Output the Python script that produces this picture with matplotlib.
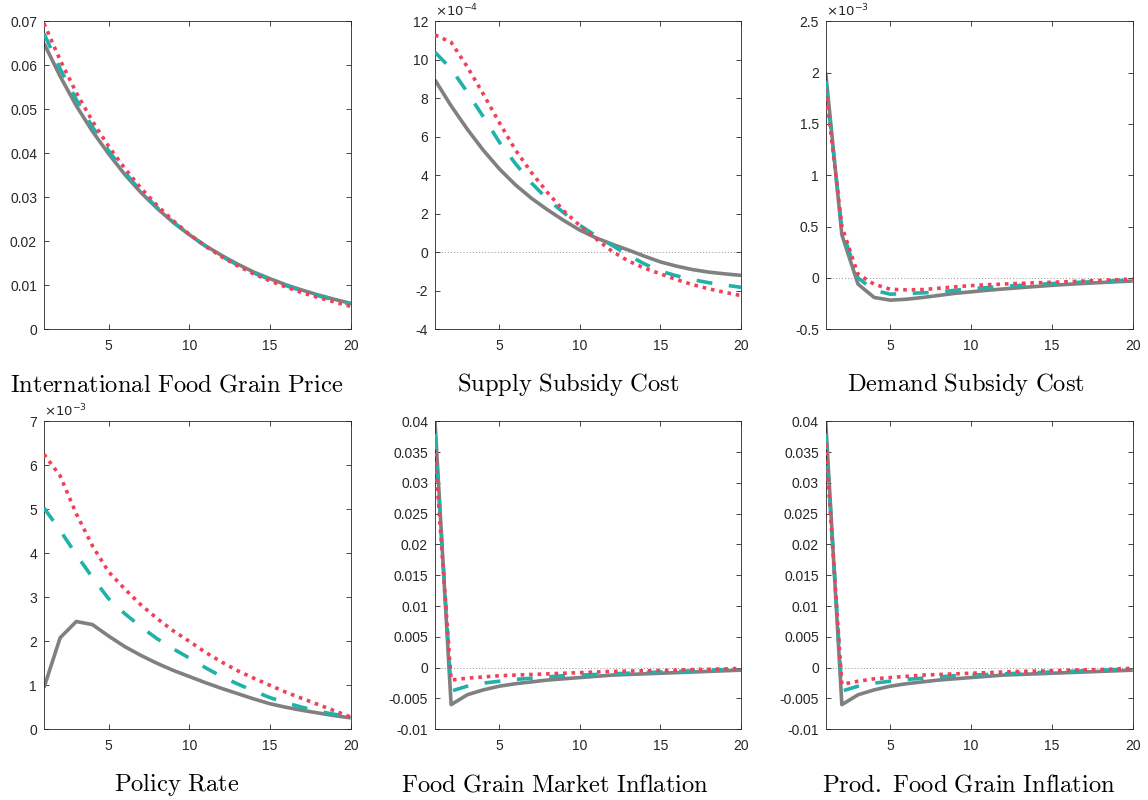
import numpy as np
import matplotlib
matplotlib.use("Agg")
import matplotlib.pyplot as plt
from matplotlib.ticker import MultipleLocator, FuncFormatter

# ---------------- data ----------------
periods = list(range(1, 21))

# International Food Grain Price
intl_gray = [0.0650, 0.0575, 0.0508, 0.0450, 0.0399, 0.0352, 0.0311, 0.0275, 0.0243, 0.0215,
             0.0190, 0.0168, 0.0148, 0.0130, 0.0115, 0.0101, 0.0089, 0.0078, 0.0068, 0.0059]
intl_teal = [0.0672, 0.0592, 0.0522, 0.0460, 0.0406, 0.0357, 0.0314, 0.0277, 0.0244, 0.0215,
             0.0189, 0.0166, 0.0146, 0.0128, 0.0113, 0.0099, 0.0087, 0.0076, 0.0066, 0.0057]
intl_pink = [0.0695, 0.0612, 0.0538, 0.0473, 0.0416, 0.0366, 0.0321, 0.0282, 0.0247, 0.0216,
             0.0189, 0.0165, 0.0144, 0.0126, 0.0110, 0.0096, 0.0083, 0.0072, 0.0062, 0.0052]

# Supply Subsidy Cost (units of 1e-4)
supply_gray = [8.95, 7.61, 6.40, 5.30, 4.33, 3.50, 2.80, 2.20, 1.65, 1.15,
               0.75, 0.42, 0.12, -0.20, -0.50, -0.72, -0.90, -1.03, -1.12, -1.20]
supply_teal = [10.39, 9.54, 8.32, 7.04, 5.72, 4.60, 3.59, 2.75, 2.05, 1.40,
               0.85, 0.36, -0.15, -0.60, -0.98, -1.22, -1.42, -1.58, -1.70, -1.82]
supply_pink = [11.29, 10.91, 9.64, 8.22, 6.73, 5.31, 4.13, 3.09, 2.15, 1.38,
               0.70, 0.05, -0.45, -0.82, -1.12, -1.42, -1.68, -1.90, -2.08, -2.25]

# Demand Subsidy Cost (units of 1e-3)
demand_gray = [2.00, 0.42, -0.06, -0.19, -0.216, -0.207, -0.19, -0.17, -0.15, -0.135,
               -0.12, -0.107, -0.095, -0.083, -0.072, -0.062, -0.053, -0.045, -0.037, -0.030]
demand_teal = [1.92, 0.47, 0.00, -0.12, -0.158, -0.151, -0.145, -0.137, -0.120, -0.105,
               -0.094, -0.083, -0.073, -0.064, -0.055, -0.047, -0.040, -0.033, -0.026, -0.020]
demand_pink = [1.84, 0.50, 0.036, -0.061, -0.110, -0.116, -0.113, -0.100, -0.087, -0.074,
               -0.066, -0.059, -0.053, -0.047, -0.042, -0.036, -0.030, -0.024, -0.017, -0.010]

# Policy Rate (units of 1e-3)
policy_gray = [0.95, 2.08, 2.45, 2.38, 2.12, 1.88, 1.68, 1.50, 1.34, 1.20,
               1.06, 0.93, 0.81, 0.69, 0.58, 0.50, 0.43, 0.37, 0.31, 0.26]
policy_teal = [5.03, 4.52, 3.97, 3.45, 2.97, 2.63, 2.33, 2.06, 1.83, 1.62,
               1.40, 1.20, 1.03, 0.87, 0.72, 0.60, 0.50, 0.41, 0.34, 0.28]
policy_pink = [6.25, 5.76, 4.90, 4.17, 3.58, 3.19, 2.83, 2.52, 2.24, 2.00,
               1.75, 1.53, 1.33, 1.16, 1.00, 0.84, 0.70, 0.56, 0.42, 0.28]

# Food Grain Market Inflation
market_gray = [0.0400, -0.0060, -0.0044, -0.0036, -0.0030, -0.0026, -0.0023, -0.0020, -0.0018, -0.0016,
               -0.0014, -0.0012, -0.0011, -0.0010, -0.0009, -0.0008, -0.0007, -0.0006, -0.0005, -0.0004]
market_teal = [0.0380, -0.0038, -0.0030, -0.0025, -0.0022, -0.0019, -0.0017, -0.0015, -0.0013, -0.0012,
               -0.0011, -0.0010, -0.0009, -0.0008, -0.0007, -0.0006, -0.0005, -0.0004, -0.0003, -0.0002]
market_pink = [0.0348, -0.0020, -0.0017, -0.0015, -0.0013, -0.0012, -0.0011, -0.0010, -0.0009, -0.0008,
               -0.0007, -0.0006, -0.00055, -0.0005, -0.00045, -0.0004, -0.0003, -0.00025, -0.0002, -0.0001]

# Prod. Food Grain Inflation
prod_gray = [0.0400, -0.0060, -0.0044, -0.0036, -0.0030, -0.0026, -0.0023, -0.0020, -0.0018, -0.0016,
             -0.0014, -0.0012, -0.0011, -0.0010, -0.0009, -0.0008, -0.0007, -0.0006, -0.0005, -0.0004]
prod_teal = [0.0380, -0.0038, -0.0030, -0.0025, -0.0022, -0.0019, -0.0017, -0.0015, -0.0013, -0.0012,
             -0.0011, -0.0010, -0.0009, -0.0008, -0.0007, -0.0006, -0.0005, -0.0004, -0.0003, -0.0002]
prod_pink = [0.0364, -0.0027, -0.0022, -0.0018, -0.0016, -0.0014, -0.0012, -0.0011, -0.0010, -0.0009,
             -0.0008, -0.0007, -0.0006, -0.00055, -0.0005, -0.0004, -0.00035, -0.0003, -0.0002, -0.0001]

titles = ["International Food Grain Price", "Supply Subsidy Cost", "Demand Subsidy Cost",
          "Policy Rate", "Food Grain Market Inflation", "Prod. Food Grain Inflation"]
exponents = [None, "-4", "-3", "-3", None, None]
ylims = [(0, 0.07), (-4, 12), (-0.5, 2.5), (0, 7), (-0.01, 0.04), (-0.01, 0.04)]
ysteps = [0.01, 2, 0.5, 1, 0.005, 0.005]
series = [(intl_gray, intl_teal, intl_pink),
          (supply_gray, supply_teal, supply_pink),
          (demand_gray, demand_teal, demand_pink),
          (policy_gray, policy_teal, policy_pink),
          (market_gray, market_teal, market_pink),
          (prod_gray, prod_teal, prod_pink)]

# ---------------- layout ----------------
W, H = 1148, 800
plt.rcParams['font.family'] = ['Liberation Sans', 'DejaVu Sans']
fig = plt.figure(figsize=(W / 100, H / 100), dpi=100)

lefts = [44, 435, 825.7]
rights = [350.7, 741, 1132.7]
tops = [21.3, 421.3]
bottoms = [329.3, 729.3]
title_x = [177, 568, 966, 177, 555, 969]
title_base = [391, 791.5]

GRAY = '#808080'
TEAL = '#20B2AA'
PINK = '#F0405A'
AXC = '#262626'

def fmt(v, pos):
    return '%g' % round(v, 6)

for i in range(6):
    r, c = divmod(i, 3)
    l, rt = lefts[c], rights[c]
    t, b = tops[r], bottoms[r]
    ax = fig.add_axes([l / W, 1 - b / H, (rt - l) / W, (b - t) / H])
    g, tl, pk = series[i]
    ax.axhline(0, color='#909090', lw=0.7, ls=(0, (1, 2.2)), zorder=1)
    ax.plot(periods, g, color=GRAY, lw=2.6, solid_capstyle='butt', zorder=2)
    ax.plot(periods, tl, color=TEAL, lw=2.6, ls=(0, (4.4, 4.6)), dash_capstyle='butt', zorder=3)
    ax.plot(periods, pk, color=PINK, lw=2.6, ls=(0, (1, 1.35)), dash_capstyle='butt', zorder=4)
    ax.set_xlim(1, 20)
    ax.set_ylim(*ylims[i])
    ax.xaxis.set_major_locator(MultipleLocator(5))
    ax.yaxis.set_major_locator(MultipleLocator(ysteps[i]))
    ax.yaxis.set_major_formatter(FuncFormatter(fmt))
    ax.tick_params(direction='in', top=True, right=True, length=3.5, width=0.6,
                   color=AXC, labelcolor=AXC, labelsize=10)
    ax.tick_params(axis='x', pad=7)
    ax.tick_params(axis='y', pad=5)
    for sp in ax.spines.values():
        sp.set_color(AXC)
        sp.set_linewidth(0.6)
    if exponents[i]:
        ax.text(0.0, 1.008, r'$\times10^{%s}$' % exponents[i], transform=ax.transAxes,
                ha='left', va='bottom', fontsize=9.5, color=AXC, math_fontfamily='dejavusans')
    name = titles[i].replace(' ', r'\ ')
    fig.text(title_x[i] / W, 1 - title_base[r] / H, r'$\mathrm{%s}$' % name,
             ha='center', va='baseline', fontsize=17.7, math_fontfamily='cm', color='black')

fig.savefig('out.png', dpi=100)
